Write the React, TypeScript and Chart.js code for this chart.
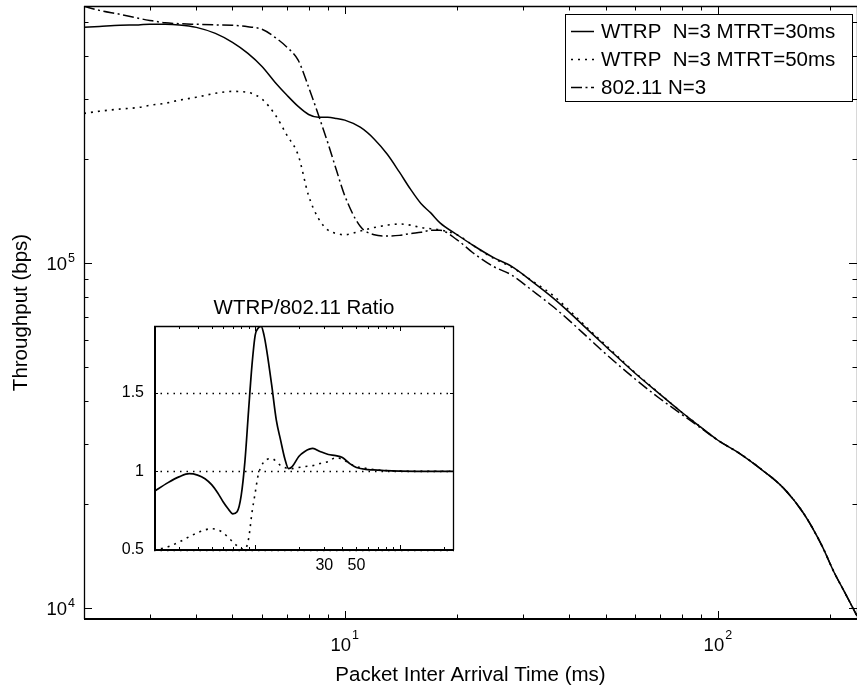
import React, { useEffect, useRef } from 'react';
import { Chart, registerables } from 'chart.js';

Chart.register(...registerables);

const FONT = '"Liberation Sans", Arial, Helvetica, sans-serif';

// ---------- main chart data ----------
const arrivalMs = [2, 2.2, 2.5, 2.8, 3, 3.3, 3.6, 4, 4.5, 5, 5.5, 6, 6.5, 7, 7.5, 8, 8.5, 9, 9.5, 10, 11, 12, 13, 14, 15, 16, 17, 18, 20, 22, 25, 28, 32, 36, 40, 45, 50, 60, 70, 80, 90, 100, 115, 130, 150, 170, 190, 205, 220, 236];

const wtrp30 = [4.83e5, 4.86e5, 4.9e5, 4.91e5, 4.93e5, 4.93e5, 4.91e5, 4.83e5, 4.64e5, 4.37e5, 4.06e5, 3.72e5, 3.35e5, 3.07e5, 2.85e5, 2.7e5, 2.65e5, 2.65e5, 2.63e5, 2.6e5, 2.48e5, 2.29e5, 2.07e5, 1.84e5, 1.64e5, 1.49e5, 1.4e5, 1.31e5, 1.21e5, 1.13e5, 1.04e5, 0.98e5, 8.81e4, 7.97e4, 7.21e4, 6.39e4, 5.75e4, 4.8e4, 4.17e4, 3.7e4, 3.35e4, 3.07e4, 2.8e4, 2.54e4, 2.23e4, 1.88e4, 1.52e4, 1.27e4, 1.1e4, 9.5e3];

const wtrp50 = [2.72e5, 2.76e5, 2.8e5, 2.83e5, 2.87e5, 2.91e5, 2.97e5, 3.03e5, 3.11e5, 3.15e5, 3.13e5, 2.99e5, 2.7e5, 2.35e5, 2.06e5, 1.57e5, 1.35e5, 1.25e5, 1.22e5, 1.21e5, 1.24e5, 1.27e5, 1.29e5, 1.3e5, 1.29e5, 1.27e5, 1.26e5, 1.25e5, 1.21e5, 1.13e5, 1.035e5, 0.975e5, 8.85e4, 8.1e4, 7.3e4, 6.45e4, 5.8e4, 4.82e4, 4.18e4, 3.7e4, 3.35e4, 3.07e4, 2.8e4, 2.54e4, 2.23e4, 1.88e4, 1.52e4, 1.27e4, 1.1e4, 9.5e3];

const dot11 = [5.56e5, 5.41e5, 5.27e5, 5.13e5, 5.06e5, 4.98e5, 4.95e5, 4.93e5, 4.91e5, 4.9e5, 4.85e5, 4.77e5, 4.52e5, 4.23e5, 3.88e5, 3.24e5, 2.69e5, 2.24e5, 1.86e5, 1.57e5, 1.28e5, 1.21e5, 1.2e5, 1.205e5, 1.22e5, 1.23e5, 1.246e5, 1.246e5, 1.17e5, 1.075e5, 0.98e5, 0.925e5, 8.3e4, 7.52e4, 6.82e4, 6.07e4, 5.47e4, 4.62e4, 4.05e4, 3.65e4, 3.33e4, 3.07e4, 2.8e4, 2.54e4, 2.23e4, 1.88e4, 1.52e4, 1.27e4, 1.1e4, 9.5e3];

const seriesLabels = ['WTRP  N=3 MTRT=30ms', 'WTRP  N=3 MTRT=50ms', '802.11 N=3'];
const xTickLabels = [{ v: 10, e: '1' }, { v: 100, e: '2' }];
const yTickLabels = [{ v: 1e4, e: '4' }, { v: 1e5, e: '5' }];

// ---------- inset data ----------
const insetMs = [2, 2.5, 3, 3.5, 4, 4.5, 5, 5.5, 6, 6.5, 7, 7.5, 8, 8.5, 9, 9.5, 10, 10.5, 11, 11.5, 12, 13, 14, 15, 16, 17, 18, 20, 22, 25, 28, 32, 36, 40, 45, 50, 60, 70, 80, 100, 130, 170, 236];

const ratio30 = [0.871, 0.928, 0.966, 0.985, 0.976, 0.953, 0.915, 0.864, 0.807, 0.762, 0.73, 0.743, 0.845, 1.068, 1.387, 1.674, 1.865, 1.91, 1.92, 1.865, 1.77, 1.547, 1.323, 1.195, 1.081, 1.017, 1.03, 1.094, 1.126, 1.145, 1.126, 1.107, 1.1, 1.087, 1.049, 1.024, 1.011, 1.008, 1.004, 1.001, 1.0, 1.0, 1.0];

const ratio50 = [0.5, 0.52, 0.552, 0.584, 0.61, 0.628, 0.635, 0.628, 0.61, 0.58, 0.552, 0.526, 0.507, 0.507, 0.571, 0.737, 0.864, 0.979, 1.03, 1.062, 1.075, 1.081, 1.062, 1.036, 1.024, 1.017, 1.017, 1.024, 1.03, 1.036, 1.049, 1.062, 1.087, 1.075, 1.049, 1.03, 1.017, 1.008, 1.004, 1.001, 1.0, 1.0, 1.0];

const insetTitle = 'WTRP/802.11 Ratio';
const insetYTicks = [0.5, 1, 1.5];
const insetYLabels = ['0.5', '1', '1.5'];
const insetXTicks = [30, 50];

// ---------- styles ----------
const DOTTED = [2, 5];
const DASHDOT = [11, 3.5, 2, 3.5];

function logTicks(min: number, max: number) {
  const out: { v: number; major: boolean }[] = [];
  for (let e = Math.floor(Math.log10(min)); e <= Math.ceil(Math.log10(max)); e++) {
    for (let m = 1; m < 10; m++) {
      const v = m * Math.pow(10, e);
      if (v > min * 1.0001 && v < max * 0.9999) out.push({ v, major: m === 1 });
    }
  }
  return out;
}

function seg(ctx: any, x1: number, y1: number, x2: number, y2: number) {
  ctx.beginPath();
  ctx.moveTo(x1, y1);
  ctx.lineTo(x2, y2);
  ctx.stroke();
}

const X_MIN = 2, X_MAX = 236, Y_MIN = 9311, Y_MAX = 557000;

const mainFrame = {
  id: 'mainFrame',
  afterDraw(chart: any) {
    const { ctx, chartArea: a } = chart;
    const xs = chart.scales.x, ys = chart.scales.y;
    ctx.save();
    ctx.strokeStyle = '#000';
    ctx.fillStyle = '#000';
    ctx.setLineDash([]);
    ctx.lineWidth = 1;
    for (const t of logTicks(X_MIN, X_MAX)) {
      const px = Math.round(xs.getPixelForValue(t.v)) + 0.5;
      const len = t.major ? 8 : 4.5;
      seg(ctx, px, a.bottom, px, a.bottom - len);
      seg(ctx, px, a.top, px, a.top + len);
    }
    for (const t of logTicks(Y_MIN, Y_MAX)) {
      const py = Math.round(ys.getPixelForValue(t.v)) + 0.5;
      const len = t.major ? 8 : 4.5;
      seg(ctx, a.left, py, a.left + len, py);
      seg(ctx, a.right, py, a.right - len, py);
    }
    // box
    ctx.lineWidth = 1.3;
    seg(ctx, a.left + 0.5, a.top, a.left + 0.5, a.bottom);
    seg(ctx, a.left, a.top + 0.5, a.right, a.top + 0.5);
    seg(ctx, a.right + 0.5, a.top, a.right + 0.5, a.bottom);
    ctx.lineWidth = 2;
    seg(ctx, a.left, a.bottom, a.right, a.bottom);

    const base = `18.5px ${FONT}`;
    const sup = `12.5px ${FONT}`;
    ctx.textBaseline = 'alphabetic';
    // y tick labels
    for (const t of yTickLabels) {
      const py = ys.getPixelForValue(t.v);
      ctx.font = sup;
      const w2 = ctx.measureText(t.e).width;
      ctx.font = base;
      ctx.textAlign = 'right';
      ctx.fillText('10', 75 - w2 - 1, py + 7);
      ctx.font = sup;
      ctx.textAlign = 'left';
      ctx.fillText(t.e, 75 - w2, py - 1);
    }
    // x tick labels
    for (const t of xTickLabels) {
      const px = xs.getPixelForValue(t.v);
      ctx.font = base;
      const w1 = ctx.measureText('10').width;
      ctx.font = sup;
      const w2 = ctx.measureText(t.e).width;
      const start = px - (w1 + 1 + w2) / 2;
      ctx.textAlign = 'left';
      ctx.font = base;
      ctx.fillText('10', start, a.bottom + 32);
      ctx.font = sup;
      ctx.fillText(t.e, start + w1 + 1, a.bottom + 20);
    }
    // axis titles
    ctx.font = `20.5px ${FONT}`;
    ctx.textAlign = 'center';
    ctx.textBaseline = 'middle';
    ctx.fillText('Packet Inter Arrival Time (ms)', (a.left + a.right) / 2, 675);
    ctx.save();
    ctx.translate(21, (a.top + a.bottom) / 2);
    ctx.rotate(-Math.PI / 2);
    ctx.fillText('Throughput (bps)', 0, 0);
    ctx.restore();

    // legend
    const bx0 = 565, by0 = 14, bx1 = 852, by1 = 101;
    ctx.fillStyle = '#fff';
    ctx.fillRect(bx0, by0, bx1 - bx0, by1 - by0);
    ctx.lineWidth = 1;
    ctx.strokeStyle = '#000';
    ctx.strokeRect(bx0 + 0.5, by0 + 0.5, bx1 - bx0, by1 - by0);
    const rows = [31, 59, 87];
    const dashes = [[], DOTTED, DASHDOT];
    ctx.fillStyle = '#000';
    ctx.font = `20.5px ${FONT}`;
    ctx.textAlign = 'left';
    ctx.textBaseline = 'middle';
    rows.forEach((ry, i) => {
      ctx.setLineDash(dashes[i]);
      ctx.lineWidth = 1.5;
      seg(ctx, 571, ry + 0.5, 594, ry + 0.5);
      ctx.setLineDash([]);
      ctx.fillText(seriesLabels[i], 601, ry + 1);
    });
    ctx.restore();
  },
};

const insetFrame = {
  id: 'insetFrame',
  beforeDatasetsDraw(chart: any) {
    const { ctx, chartArea: a } = chart;
    const ys = chart.scales.y;
    ctx.save();
    ctx.strokeStyle = '#000';
    ctx.lineWidth = 1.3;
    ctx.setLineDash([1.5, 5]);
    for (const v of insetYTicks) {
      const py = Math.round(ys.getPixelForValue(v)) + 0.5;
      seg(ctx, a.left, py, a.right, py);
    }
    ctx.restore();
  },
  afterDraw(chart: any) {
    const { ctx, chartArea: a } = chart;
    const xs = chart.scales.x, ys = chart.scales.y;
    ctx.save();
    ctx.strokeStyle = '#000';
    ctx.fillStyle = '#000';
    ctx.setLineDash([]);
    ctx.lineWidth = 1;
    for (const t of logTicks(X_MIN, X_MAX)) {
      const px = Math.round(xs.getPixelForValue(t.v)) + 0.5;
      const len = t.major ? 5 : 3;
      seg(ctx, px, a.top, px, a.top + len);
      seg(ctx, px, a.bottom, px, a.bottom - len);
    }
    for (const v of insetYTicks) {
      const py = Math.round(ys.getPixelForValue(v)) + 0.5;
      seg(ctx, a.left, py, a.left + 4, py);
      seg(ctx, a.right, py, a.right - 4, py);
    }
    ctx.lineWidth = 1.3;
    seg(ctx, a.left, a.top + 0.5, a.right, a.top + 0.5);
    seg(ctx, a.right - 0.5, a.top, a.right - 0.5, a.bottom);
    ctx.lineWidth = 2;
    seg(ctx, a.left + 1, a.top, a.left + 1, a.bottom + 1);
    seg(ctx, a.left, a.bottom, a.right, a.bottom);

    ctx.font = `16px ${FONT}`;
    ctx.textAlign = 'right';
    ctx.textBaseline = 'middle';
    insetYTicks.forEach((v, i) => {
      ctx.fillText(insetYLabels[i], a.left - 10, ys.getPixelForValue(v));
    });
    ctx.textAlign = 'center';
    for (const v of insetXTicks) {
      ctx.fillText(String(v), xs.getPixelForValue(v), a.bottom + 16);
    }
    ctx.font = `20.5px ${FONT}`;
    ctx.fillText(insetTitle, (a.left + a.right) / 2, a.top - 18);
    ctx.restore();
  },
};

export default function App() {
  const mainRef = useRef<HTMLCanvasElement>(null);
  const insetRef = useRef<HTMLCanvasElement>(null);

  useEffect(() => {
    const line = (label: string, xsArr: number[], ys: number[], dash: number[], width: number) => ({
      label,
      data: xsArr.map((x, i) => ({ x, y: ys[i] })),
      borderColor: '#000',
      backgroundColor: '#000',
      borderWidth: width,
      borderDash: dash,
      pointRadius: 0,
      fill: false,
      cubicInterpolationMode: 'monotone',
    });

    const main = new Chart(mainRef.current as HTMLCanvasElement, {
      type: 'line',
      data: {
        datasets: [
          line(seriesLabels[0], arrivalMs, wtrp30, [], 1.5),
          line(seriesLabels[1], arrivalMs, wtrp50, DOTTED, 1.6),
          line(seriesLabels[2], arrivalMs, dot11, DASHDOT, 1.5),
        ] as any,
      },
      options: {
        responsive: false,
        animation: false,
        events: [],
        layout: { autoPadding: false, padding: { left: 84, top: 6, right: 0, bottom: 72 } },
        scales: {
          x: { type: 'logarithmic', min: X_MIN, max: X_MAX, display: false },
          y: { type: 'logarithmic', min: Y_MIN, max: Y_MAX, display: false },
        },
        plugins: { legend: { display: false }, tooltip: { enabled: false } },
      } as any,
      plugins: [mainFrame],
    });

    const inset = new Chart(insetRef.current as HTMLCanvasElement, {
      type: 'line',
      data: {
        datasets: [
          line(seriesLabels[0], insetMs, ratio30, [], 1.7),
          line(seriesLabels[1], insetMs, ratio50, DOTTED, 1.6),
        ] as any,
      },
      options: {
        responsive: false,
        animation: false,
        events: [],
        layout: { autoPadding: false, padding: { left: 44, top: 36, right: 16, bottom: 30 } },
        scales: {
          x: { type: 'logarithmic', min: X_MIN, max: X_MAX, display: false },
          y: { type: 'linear', min: 0.5, max: 1.923, display: false },
        },
        plugins: { legend: { display: false }, tooltip: { enabled: false } },
      } as any,
      plugins: [insetFrame],
    });

    return () => {
      main.destroy();
      inset.destroy();
    };
  }, []);

  return (
    <div style={{ position: 'absolute', left: 0, top: 0, width: 857, height: 691, background: '#fff', overflow: 'hidden' }}>
      <canvas ref={mainRef} width={857} height={691} style={{ position: 'absolute', left: 0, top: 0, width: 857, height: 691 }} />
      <canvas ref={insetRef} width={360} height={290} style={{ position: 'absolute', left: 110, top: 290, width: 360, height: 290 }} />
    </div>
  );
}
